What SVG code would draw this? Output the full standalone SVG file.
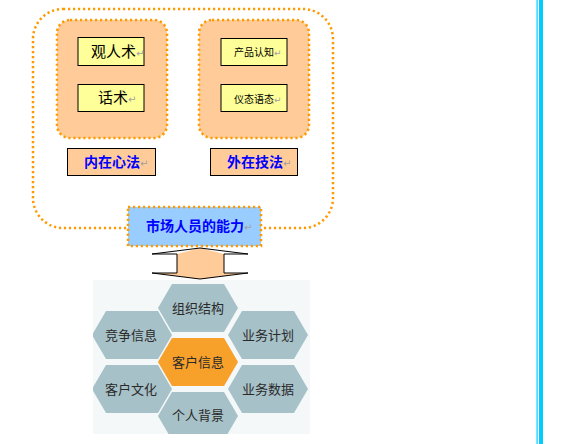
<svg xmlns="http://www.w3.org/2000/svg" width="562" height="444" viewBox="0 0 562 444">
<style>
.dot{fill:none;stroke:#ff9900;stroke-width:2.5;stroke-dasharray:2.2 2.8}
.peach{fill:#ffcc99}
.ybox{fill:#ffff99;stroke:#000;stroke-width:1}
.lbox{fill:#ffcc99;stroke:#000;stroke-width:1}
.t{font-family:"Noto Sans CJK SC","Noto Sans",sans-serif;fill:#000}
.blue{font-family:"Noto Sans CJK SC",sans-serif;fill:#0000ff;font-weight:bold}
.ret{fill:#a0a0a0;font-family:"DejaVu Sans",sans-serif;font-weight:normal}
.hex{fill:#a7c1c8}
.hexo{fill:#f7a02a}
.ht{font-family:"Noto Sans CJK SC",sans-serif;font-size:13px;fill:#2a2a2a;text-anchor:middle}
</style>
<defs>
<polygon id="hx" points="0,24 14,0 66,0 80,24 66,48 14,48"/>
<clipPath id="bgclip"><rect x="93" y="280" width="217" height="154"/></clipPath>
</defs>
<rect width="562" height="444" fill="#fff"/>
<g id="sidebar">
<rect x="536.5" y="0" width="1.2" height="444" fill="#00ccff"/>
<rect x="539" y="0" width="4" height="444" fill="#00ccff"/>
</g>
<g id="outer">
<rect x="33" y="9" width="300" height="219" rx="30" class="dot"/>
</g>
<g id="inner-group">
<rect x="57" y="20" width="110" height="118" rx="13" class="peach"/>
<rect x="57" y="20" width="110" height="118" rx="13" class="dot"/>
</g>
<g id="outer-group">
<rect x="199" y="20" width="110" height="118" rx="13" class="peach"/>
<rect x="199" y="20" width="110" height="118" rx="13" class="dot"/>
</g>
<g id="guanrenshu">
<rect x="78" y="37.5" width="66" height="28" class="ybox"/>
<text x="91" y="57" class="t" font-size="15">观人术<tspan class="ret" font-size="10">↵</tspan></text>
</g>
<g id="huashu">
<rect x="78" y="84.5" width="66" height="27" class="ybox"/>
<text x="98" y="103" class="t" font-size="15">话术<tspan class="ret" font-size="10">↵</tspan></text>
</g>
<g id="chanpin">
<rect x="221" y="38.5" width="66" height="27" class="ybox"/>
<text x="234" y="56" class="t" font-size="10">产品认知<tspan class="ret" font-size="9">↵</tspan></text>
</g>
<g id="yitai">
<rect x="221" y="84.5" width="66" height="27" class="ybox"/>
<text x="234" y="103" class="t" font-size="10">仪态语态<tspan class="ret" font-size="9">↵</tspan></text>
</g>
<g id="neizai">
<rect x="67.5" y="148.5" width="88" height="27" class="lbox"/>
<text x="84" y="167" class="blue" font-size="14">内在心法<tspan class="ret" font-size="10">↵</tspan></text>
</g>
<g id="waizai">
<rect x="210.5" y="148.5" width="87" height="27" class="lbox"/>
<text x="227" y="167" class="blue" font-size="14">外在技法<tspan class="ret" font-size="10">↵</tspan></text>
</g>
<g id="ability">
<rect x="128" y="207" width="133" height="39" fill="#99ccff"/>
<rect x="128" y="207" width="133" height="39" class="dot"/>
<text x="146" y="231" class="blue" font-size="14">市场人员的能力<tspan class="ret" font-size="10">↵</tspan></text>
</g>
<g id="connectors">
<path d="M177,254 L200,248 L224,254 L224,273 L248,273 L200,279 L152,273 L177,273 Z" fill="#ffcc99"/>
<path d="M152,254 L200,248 L248,254 M152,254 L177,254 L177,273 L152,273 L200,279 L248,273 L224,273 L224,254 L248,254" fill="none" stroke="#000" stroke-width="1"/>
</g>
<g id="honeycomb">
<rect x="93" y="280" width="217" height="154" fill="#f4f8f8"/>
<g clip-path="url(#bgclip)">
<g id="zuzhi"><use href="#hx" x="158" y="284" class="hex"/><text x="198" y="313" class="ht">组织结构</text></g>
<g id="kehu"><use href="#hx" x="158" y="338" class="hexo"/><text x="198" y="367" class="ht">客户信息</text></g>
<g id="geren"><use href="#hx" x="158" y="392" class="hex"/><text x="198" y="420" class="ht">个人背景</text></g>
<g id="jingzheng"><use href="#hx" x="92" y="311" class="hex"/><text x="131" y="340" class="ht">竞争信息</text></g>
<g id="wenhua"><use href="#hx" x="92" y="365" class="hex"/><text x="131" y="394" class="ht">客户文化</text></g>
<g id="jihua"><use href="#hx" x="228" y="311" class="hex"/><text x="268" y="340" class="ht">业务计划</text></g>
<g id="shuju"><use href="#hx" x="228" y="365" class="hex"/><text x="268" y="394" class="ht">业务数据</text></g>
</g>
</g>
</svg>
